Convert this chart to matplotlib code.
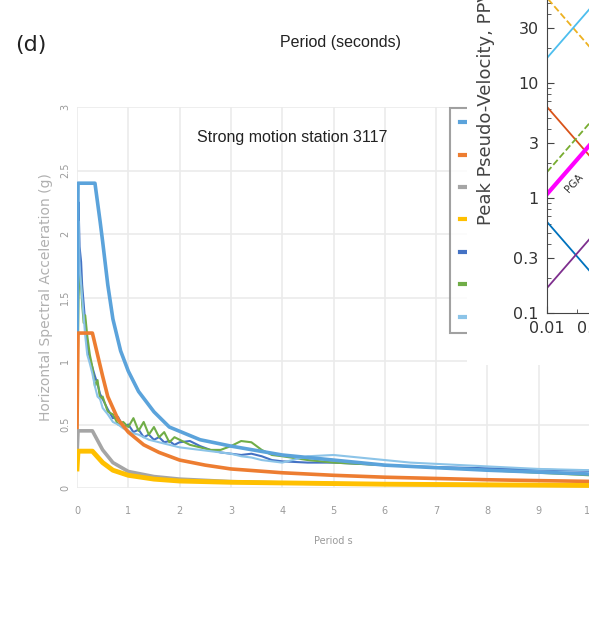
import matplotlib.pyplot as plt
from matplotlib.lines import Line2D
from matplotlib.patches import Rectangle

# main chart: period (s) vs horizontal spectral acceleration (g)
design_names = ["ULS site spectrum", "SLS site spectrum", "SLS1 spectrum", "SLS2 spectrum"]
design_colors = ["#5BA3DB", "#ED7D31", "#A5A5A5", "#FFC000"]

uls_T = [0, 0.02, 0.35, 0.45, 0.5, 0.6, 0.7, 0.85, 1.0, 1.2, 1.5, 1.8, 2.4, 3, 4, 5, 6, 7, 8, 9, 10]
uls_A = [1.0, 2.4, 2.4, 2.1, 1.94, 1.6, 1.33, 1.08, 0.92, 0.76, 0.6, 0.48, 0.38, 0.33, 0.26, 0.22,
         0.18, 0.16, 0.14, 0.125, 0.11]

sls_T = [0, 0.02, 0.3, 0.4, 0.5, 0.6, 0.8, 1.0, 1.3, 1.6, 2.0, 2.5, 3, 4, 5, 6, 7, 8, 9, 10]
sls_A = [0.45, 1.22, 1.22, 1.05, 0.88, 0.72, 0.54, 0.44, 0.34, 0.28, 0.22, 0.18, 0.15, 0.12, 0.1,
         0.085, 0.075, 0.065, 0.058, 0.052]

low_T = [0, 0.02, 0.3, 0.5, 0.7, 1.0, 1.5, 2, 3, 4, 6, 8, 10]
gray_A = [0.25, 0.45, 0.45, 0.3, 0.2, 0.13, 0.09, 0.07, 0.05, 0.04, 0.03, 0.025, 0.02]
yellow_A = [0.15, 0.29, 0.29, 0.2, 0.14, 0.1, 0.07, 0.055, 0.045, 0.04, 0.03, 0.025, 0.02]

rec_names = ["Recorded H1", "Recorded H2", "Recorded geomean"]
rec_colors = ["#4472C4", "#70AD47", "#8CC4E8"]
rec_T = [0, 0.03, 0.05, 0.08, 0.1, 0.13, 0.16, 0.2, 0.25, 0.3, 0.35, 0.4, 0.45, 0.5, 0.6, 0.7,
         0.8, 0.9, 1.0, 1.1, 1.2, 1.3, 1.4, 1.5, 1.6, 1.7, 1.8, 1.9, 2.0, 2.2, 2.4, 2.6, 2.8, 3.0,
         3.2, 3.4, 3.6, 3.8, 4.0, 4.5, 5.0, 5.5, 6, 6.5, 7, 7.5, 8, 8.5, 9, 9.5, 10]
rec_blue = [0.45, 2.25, 1.9, 1.78, 1.6, 1.45, 1.3, 1.12, 1.02, 0.95, 0.88, 0.82, 0.74, 0.7, 0.62,
            0.55, 0.56, 0.48, 0.5, 0.44, 0.46, 0.4, 0.42, 0.38, 0.4, 0.36, 0.37, 0.34, 0.36, 0.37,
            0.33, 0.3, 0.28, 0.27, 0.26, 0.27, 0.25, 0.22, 0.21, 0.2, 0.2, 0.19, 0.18, 0.17, 0.165,
            0.16, 0.155, 0.15, 0.145, 0.14, 0.135]
rec_green = [0.4, 1.5, 1.7, 1.6, 1.45, 1.3, 1.36, 1.2, 1.05, 0.95, 0.8, 0.85, 0.7, 0.72, 0.6,
             0.58, 0.5, 0.52, 0.48, 0.55, 0.45, 0.52, 0.42, 0.48, 0.4, 0.44, 0.36, 0.4, 0.38, 0.34,
             0.32, 0.3, 0.3, 0.33, 0.37, 0.36, 0.3, 0.26, 0.25, 0.22, 0.2, 0.19, 0.18, 0.17, 0.16,
             0.15, 0.14, 0.13, 0.12, 0.11, 0.1]
rec_light = [0.5, 2.1, 1.75, 1.6, 1.5, 1.35, 1.2, 1.05, 0.98, 0.9, 0.8, 0.72, 0.7, 0.63, 0.58,
             0.52, 0.5, 0.47, 0.45, 0.43, 0.42, 0.4, 0.38, 0.37, 0.36, 0.35, 0.34, 0.33, 0.32,
             0.31, 0.3, 0.29, 0.28, 0.27, 0.25, 0.24, 0.22, 0.21, 0.2, 0.25, 0.26, 0.24, 0.22, 0.2,
             0.19, 0.18, 0.17, 0.16, 0.15, 0.145, 0.14]

# inset tripartite chart: each line given by two points (period s, PPV)
inset_T = [0.01, 0.1]
inset_lines = [
    ("#EDB120", "--", 1.3, [55, 5.5]),
    ("#4DBEEE", "-", 1.3, [16.5, 165]),
    ("#D95319", "-", 1.3, [6.2, 0.62]),
    ("#77AC30", "--", 1.3, [1.68, 16.8]),
    ("#FF00FF", "-", 3.0, [1.08, 10.8]),
    ("#0072BD", "-", 1.3, [0.62, 0.062]),
    ("#7E2F8E", "-", 1.3, [0.165, 1.65]),
]
inset_yticks = [0.1, 0.3, 1, 3, 10, 30]

W, H = 589, 625
fig = plt.figure(figsize=(W / 100, H / 100), dpi=100)

ax = fig.add_axes([77 / W, 1 - 488 / H, 513 / W, 381 / H])
ax.plot(uls_T, uls_A, color=design_colors[0], lw=2.6, label=design_names[0], zorder=4)
ax.plot(sls_T, sls_A, color=design_colors[1], lw=2.6, label=design_names[1], zorder=4)
ax.plot(low_T, gray_A, color=design_colors[2], lw=2.6, label=design_names[2], zorder=4)
ax.plot(low_T, yellow_A, color=design_colors[3], lw=3.5, label=design_names[3], zorder=4)
for vals, c, n in zip([rec_blue, rec_green, rec_light], rec_colors, rec_names):
    ax.plot(rec_T, vals, color=c, lw=1.5, label=n, zorder=3)

ax.set_xlim(0, 10)
ax.set_ylim(0, 3)
ax.set_xticks(range(0, 11))
ax.set_yticks([0, 0.5, 1, 1.5, 2, 2.5, 3])
ax.set_yticklabels(["0", "0.5", "1", "1.5", "2", "2.5", "3"], rotation=90, va="center")
ax.tick_params(length=0, labelsize=7, labelcolor="#9a9a9a")
ax.tick_params(axis="x", pad=13)
ax.tick_params(axis="y", pad=5)
ax.grid(color="#ebebeb", lw=1.2)
for s in ax.spines.values():
    s.set_visible(False)
ax.set_xlabel("Period s", fontsize=7, color="#9a9a9a", labelpad=14)
ax.set_ylabel("Horizontal Spectral Acceleration (g)", fontsize=10, color="#b0b0b0", labelpad=5)
ax.text(0.42, 0.92, "Strong motion station 3117", transform=ax.transAxes, ha="center",
        va="center", fontsize=11.5, family="Liberation Sans", color="#222222")

handles = [Line2D([], [], color=c, lw=3) for c in design_colors + rec_colors]
labels = design_names + rec_names
leg = ax.legend(handles, labels, loc="upper left", bbox_to_anchor=(373 / 513, (488 - 108) / 381),
                fontsize=8, labelspacing=2.02, handlelength=0.5, borderpad=0.9, borderaxespad=0,
                frameon=True, fancybox=False, edgecolor="#8a8a8a")
leg.get_frame().set_linewidth(1.5)

# white panel of the overlapping inset figure
cover = Rectangle((467 / W, 1 - 365 / H), 1, 1, transform=fig.transFigure,
                  facecolor="white", edgecolor="none", zorder=5)
fig.add_artist(cover)

ins = fig.add_axes([547 / W, 1 - 313 / H, 300 / W, 460 / H])
ins.set_zorder(6)
ins.patch.set_alpha(0)
ins.set_xscale("log")
ins.set_yscale("log")
ins.set_xlim(0.01, 10)
ins.set_ylim(0.1, 1000)
for c, ls, lw, yv in inset_lines:
    ins.plot(inset_T, yv, color=c, ls=ls, lw=lw)
ins.text(0.0188, 1.35, "PGA", rotation=47, fontsize=7.5, color="#333333", ha="center", va="center")
ins.set_yticks(inset_yticks)
ins.set_yticklabels(["0.1", "0.3", "1", "3", "10", "30"])
ins.set_xticks([0.01, 0.03, 0.1])
ins.set_xticklabels(["0.01", "0.03", "0.1"])
ins.tick_params(which="both", direction="in", labelsize=11.5, labelcolor="#333333", color="#444444")
ins.tick_params(which="major", length=5)
ins.tick_params(which="minor", length=3)
ins.tick_params(axis="x", pad=6)
ins.tick_params(axis="y", pad=6)
for side in ["top", "right"]:
    ins.spines[side].set_visible(False)
for side in ["left", "bottom"]:
    ins.spines[side].set_color("#444444")

fig.text(486 / W, 1 - 225 / H, "Peak Pseudo-Velocity, PPV (cm/s)", rotation=90, ha="center",
         va="bottom", fontsize=13, color="#444444", zorder=7)

fig.text(15 / W, 1 - 45 / H, "(d)", fontsize=16, va="center", ha="left", color="#222222")
fig.text(340 / W, 1 - 42 / H, "Period (seconds)", fontsize=11.5, ha="center", va="center",
         family="Liberation Sans", color="#222222")

fig.savefig("out.png", dpi=100)
